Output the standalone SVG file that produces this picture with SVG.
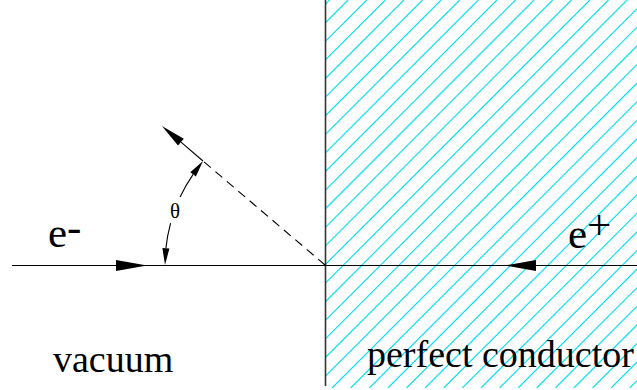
<svg xmlns="http://www.w3.org/2000/svg" width="637" height="390" viewBox="0 0 637 390">
  <style>
    .lbl { font-family: "Liberation Serif", "Times New Roman", Times, serif; fill: #000; }
    .hatch { stroke: #00e0f0; stroke-width: 1.1; fill: none; }
    .ln { stroke: #000; stroke-width: 1.1; fill: none; }
    .dash { stroke: #000; stroke-width: 1.1; fill: none; stroke-dasharray: 9 6; }
    .head { fill: #000; stroke: none; }
  </style>
  <defs>
    <clipPath id="condClip">
      <rect x="325" y="0" width="312" height="388"/>
    </clipPath>
  </defs>
  <rect width="637" height="390" fill="#fff"/>

  <g id="conductor">
    <g clip-path="url(#condClip)">
      <path class="hatch" d="M329.5,0 L-58.5,388 M348.1,0 L-39.9,388 M366.7,0 L-21.3,388 M385.3,0 L-2.7,388 M403.9,0 L15.9,388 M422.5,0 L34.5,388 M441.1,0 L53.1,388 M459.7,0 L71.7,388 M478.3,0 L90.3,388 M496.9,0 L108.9,388 M515.5,0 L127.5,388 M534.1,0 L146.1,388 M552.7,0 L164.7,388 M571.3,0 L183.3,388 M589.9,0 L201.9,388 M608.5,0 L220.5,388 M627.1,0 L239.1,388 M645.7,0 L257.7,388 M664.3,0 L276.3,388 M682.9,0 L294.9,388 M701.5,0 L313.5,388 M720.1,0 L332.1,388 M738.7,0 L350.7,388 M757.3,0 L369.3,388 M775.9,0 L387.9,388 M794.5,0 L406.5,388 M813.1,0 L425.1,388 M831.7,0 L443.7,388 M850.3,0 L462.3,388 M868.9,0 L480.9,388 M887.5,0 L499.5,388 M906.1,0 L518.1,388 M924.7,0 L536.7,388 M943.3,0 L555.3,388 M961.9,0 L573.9,388 M980.5,0 L592.5,388 M999.1,0 L611.1,388 M1017.7,0 L629.7,388 M1036.3,0 L648.3,388"/>
    </g>
    <line x1="325.5" y1="0" x2="325.5" y2="386" stroke="#333" stroke-width="1.6"/>
  </g>

  <g id="connectors">
    <!-- incident and transmitted axis -->
    <line class="ln" x1="12" y1="265.5" x2="637" y2="265.5"/>
    <polygon class="head" points="147,265.5 116,260 116,271"/>
    <polygon class="head" points="505,265.5 536,260 536,271"/>
    <!-- reflected ray -->
    <line class="dash" x1="325" y1="265" x2="203" y2="161"/>
    <line class="ln" x1="203" y1="161" x2="181" y2="142.2"/>
    <polygon class="head" points="161.9,126 183.8,138.8 178,145.6"/>
    <!-- angle arc -->
    <path class="ln" d="M180.1,197.1 A160,160 0 0 1 193.1,174.4"/>
    <polygon class="head" points="203,161 195.9,176.5 190.3,172.3"/>
    <path class="ln" d="M170.6,223.05 A160,160 0 0 0 165.9,248.3"/>
    <polygon class="head" points="165,265 169.4,248.5 162.4,248.1"/>
  </g>

  <g id="labels">
    <text id="e-minus" class="lbl" font-family="Liberation Serif, serif" x="48" y="247" font-size="43">e<tspan dy="-6">-</tspan></text>
    <text id="e-plus" class="lbl" font-family="Liberation Serif, serif" x="568" y="248" font-size="43">e<tspan dy="-9.5">+</tspan></text>
    <text id="theta" class="lbl" font-family="Liberation Serif, serif" x="175" y="218" font-size="21" text-anchor="middle">θ</text>
    <text id="vacuum" class="lbl" font-family="Liberation Serif, serif" x="53" y="372" font-size="38">vacuum</text>
    <text id="conductor-label" class="lbl" font-family="Liberation Serif, serif" x="367" y="367" font-size="38">perfect conductor</text>
  </g>
</svg>
